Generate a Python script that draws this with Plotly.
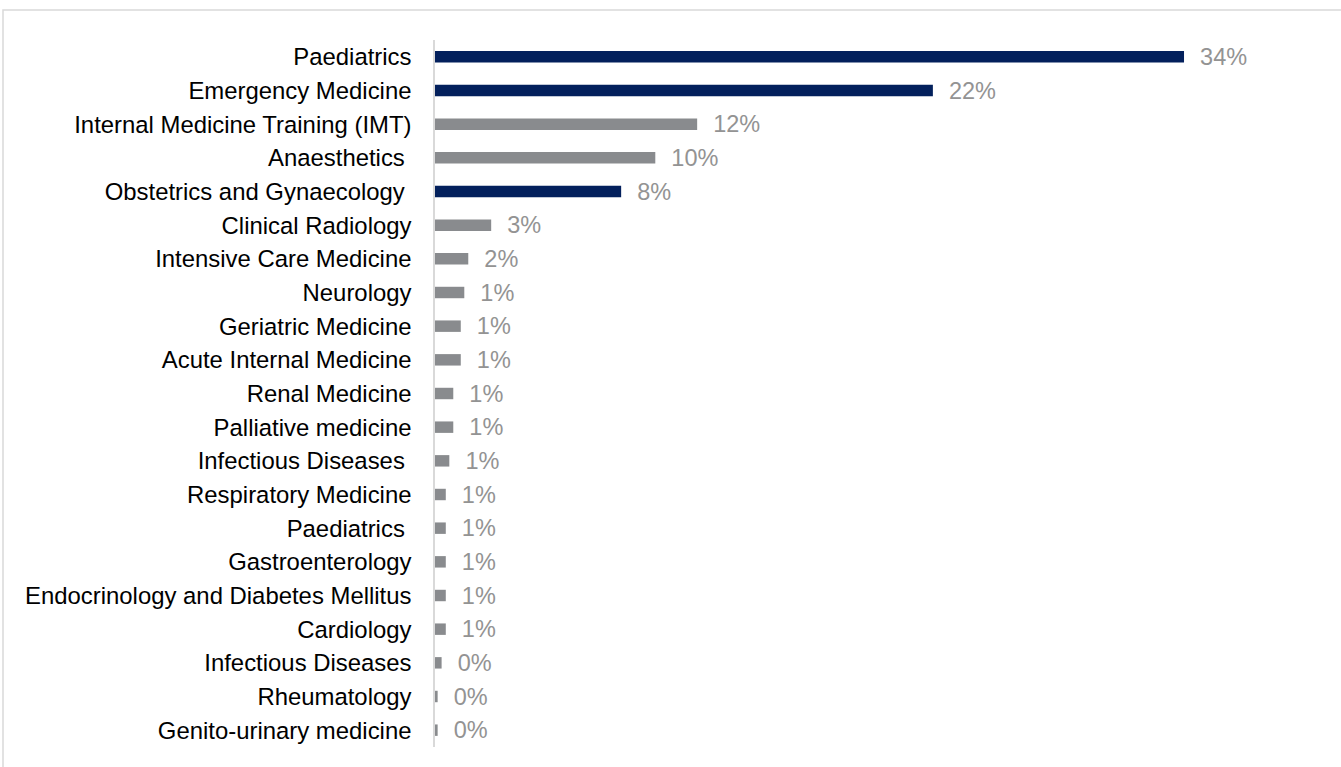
import plotly.graph_objects as go

NB = "\u00a0"
categories = [
    "Paediatrics",
    "Emergency Medicine",
    "Internal Medicine Training (IMT)",
    "Anaesthetics" + NB,
    "Obstetrics and Gynaecology" + NB,
    "Clinical Radiology",
    "Intensive Care Medicine",
    "Neurology",
    "Geriatric Medicine",
    "Acute Internal Medicine",
    "Renal Medicine",
    "Palliative medicine",
    "Infectious Diseases" + NB,
    "Respiratory Medicine",
    "Paediatrics" + NB,
    "Gastroenterology",
    "Endocrinology and Diabetes Mellitus",
    "Cardiology",
    "Infectious Diseases",
    "Rheumatology",
    "Genito-urinary medicine",
]
values = [34.0, 22.6, 11.9, 10.0, 8.45, 2.55, 1.51, 1.33, 1.17, 1.17, 0.83, 0.83,
          0.65, 0.49, 0.49, 0.49, 0.49, 0.49, 0.30, 0.12, 0.12]
labels = ["34%", "22%", "12%", "10%", "8%", "3%", "2%", "1%", "1%", "1%", "1%", "1%",
          "1%", "1%", "1%", "1%", "1%", "1%", "0%", "0%", "0%"]
highlight = [True, True, False, False, True] + [False] * 16

NAVY = "#03205C"
GRAY = "#898B8E"
colors = [NAVY if h else GRAY for h in highlight]

W, H = 1341, 767
L, T, R, B = 435, 40, 41, 20
PW, PH = W - L - R, H - T - B
px_per_unit = 22.03
xmax = PW / px_per_unit

fig = go.Figure(go.Bar(
    y=categories,
    x=values,
    orientation="h",
    marker=dict(color=colors, line=dict(width=0)),
    width=0.34,
    text=[NB + NB + t for t in labels],
    textposition="outside",
    constraintext="none",
    cliponaxis=False,
    textfont=dict(family="Liberation Sans, Arial", size=23.5, color="#939393"),
    hoverinfo="skip",
))

fig.update_layout(
    width=W, height=H,
    margin=dict(l=L, r=R, t=T, b=B, pad=0),
    paper_bgcolor="white",
    plot_bgcolor="white",
    showlegend=False,
    font=dict(family="Liberation Sans, Arial", size=23.5, color="black"),
    xaxis=dict(range=[0, xmax], visible=False, showgrid=False, zeroline=False),
    yaxis=dict(
        type="category",
        range=[len(categories) - 0.5, -0.5],
        showgrid=False,
        zeroline=False,
        showline=True,
        linecolor="#D9D9D9",
        linewidth=1.5,
        ticks="",
        ticklabelstandoff=17,
        tickfont=dict(family="Liberation Sans, Arial", size=23.9, color="black"),
    ),
    shapes=[dict(
        type="rect", xref="paper", yref="paper",
        x0=(3 - L) / PW, x1=(W + 10 - L) / PW,
        y0=-(B + 10) / PH, y1=1 + (T - 10) / PH,
        line=dict(color="#D9D9D9", width=1.5),
        fillcolor="rgba(0,0,0,0)",
        layer="below",
    )],
)

fig.write_html(
    "out.html",
    config={"displayModeBar": False},
    post_script="document.body.style.margin='0px';document.body.style.overflow='hidden';",
)
